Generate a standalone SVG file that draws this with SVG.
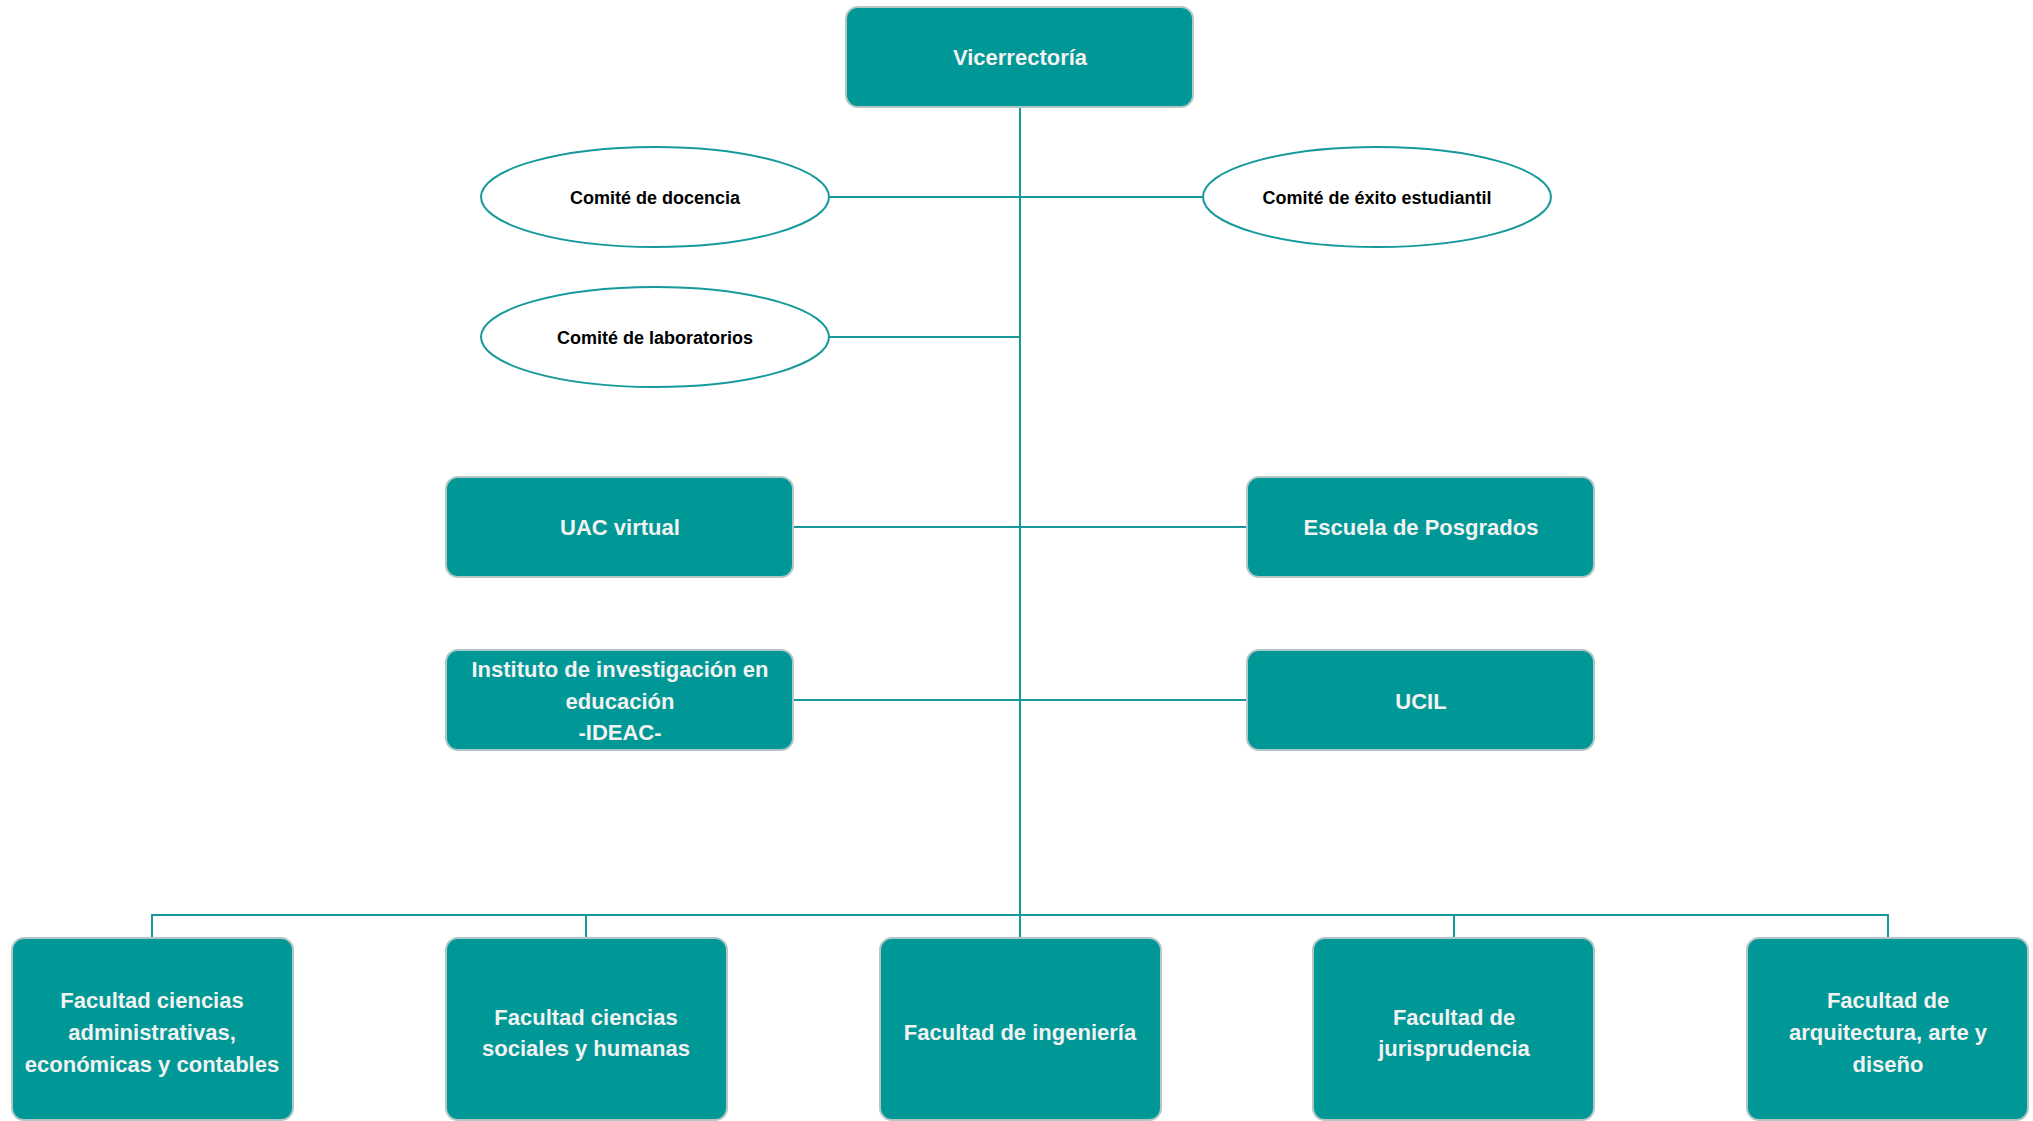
<svg xmlns="http://www.w3.org/2000/svg" width="2033" height="1121" viewBox="0 0 2033 1121">
<style>
.box{fill:#009896;stroke:#b3c7c6;stroke-width:2}
.ell{fill:#ffffff;stroke:#16999a;stroke-width:2}
.wt{font-family:"Liberation Sans",Arial,sans-serif;font-weight:bold;font-size:22px;fill:#f2f2f2;text-anchor:middle}
.bt{font-family:"Liberation Sans",Arial,sans-serif;font-weight:bold;font-size:18px;fill:#000000;text-anchor:middle}
.con{stroke:#16999a;stroke-width:2;fill:none}
</style>
<rect width="2033" height="1121" fill="#ffffff"/>
<g id="connectors" class="con">
<line x1="1020" y1="107" x2="1020" y2="938"/>
<line x1="829" y1="197" x2="1203" y2="197"/>
<line x1="829" y1="337" x2="1020" y2="337"/>
<line x1="793" y1="527" x2="1247" y2="527"/>
<line x1="793" y1="700" x2="1247" y2="700"/>
<polyline points="152,938 152,915 1888,915 1888,938"/>
<line x1="586" y1="915" x2="586" y2="938"/>
<line x1="1454" y1="915" x2="1454" y2="938"/>
</g>
<g id="vicerrectoria">
<rect class="box" x="846" y="7" width="347" height="100" rx="12"/>
<text class="wt" x="1020" y="65">Vicerrectoría</text>
</g>
<g id="comite-docencia">
<ellipse class="ell" cx="655" cy="197" rx="174" ry="50"/>
<text class="bt" x="655" y="204">Comité de docencia</text>
</g>
<g id="comite-exito">
<ellipse class="ell" cx="1377" cy="197" rx="174" ry="50"/>
<text class="bt" x="1377" y="204">Comité de éxito estudiantil</text>
</g>
<g id="comite-laboratorios">
<ellipse class="ell" cx="655" cy="337" rx="174" ry="50"/>
<text class="bt" x="655" y="344">Comité de laboratorios</text>
</g>
<g id="uac-virtual">
<rect class="box" x="446" y="477" width="347" height="100" rx="12"/>
<text class="wt" x="620" y="535">UAC virtual</text>
</g>
<g id="escuela-posgrados">
<rect class="box" x="1247" y="477" width="347" height="100" rx="12"/>
<text class="wt" x="1421" y="535">Escuela de Posgrados</text>
</g>
<g id="ideac">
<rect class="box" x="446" y="650" width="347" height="100" rx="12"/>
<text class="wt" x="620" y="677">Instituto de investigación en</text>
<text class="wt" x="620" y="709">educación</text>
<text class="wt" x="620" y="740">-IDEAC-</text>
</g>
<g id="ucil">
<rect class="box" x="1247" y="650" width="347" height="100" rx="12"/>
<text class="wt" x="1421" y="709">UCIL</text>
</g>
<g id="fac-administrativas">
<rect class="box" x="12" y="938" width="281" height="182" rx="12"/>
<text class="wt" x="152" y="1008">Facultad ciencias</text>
<text class="wt" x="152" y="1040">administrativas,</text>
<text class="wt" x="152" y="1072">económicas y contables</text>
</g>
<g id="fac-sociales">
<rect class="box" x="446" y="938" width="281" height="182" rx="12"/>
<text class="wt" x="586" y="1025">Facultad ciencias</text>
<text class="wt" x="586" y="1056">sociales y humanas</text>
</g>
<g id="fac-ingenieria">
<rect class="box" x="880" y="938" width="281" height="182" rx="12"/>
<text class="wt" x="1020" y="1040">Facultad de ingeniería</text>
</g>
<g id="fac-jurisprudencia">
<rect class="box" x="1313" y="938" width="281" height="182" rx="12"/>
<text class="wt" x="1454" y="1025">Facultad de</text>
<text class="wt" x="1454" y="1056">jurisprudencia</text>
</g>
<g id="fac-arquitectura">
<rect class="box" x="1747" y="938" width="281" height="182" rx="12"/>
<text class="wt" x="1888" y="1008">Facultad de</text>
<text class="wt" x="1888" y="1040">arquitectura, arte y</text>
<text class="wt" x="1888" y="1072">diseño</text>
</g>
</svg>
